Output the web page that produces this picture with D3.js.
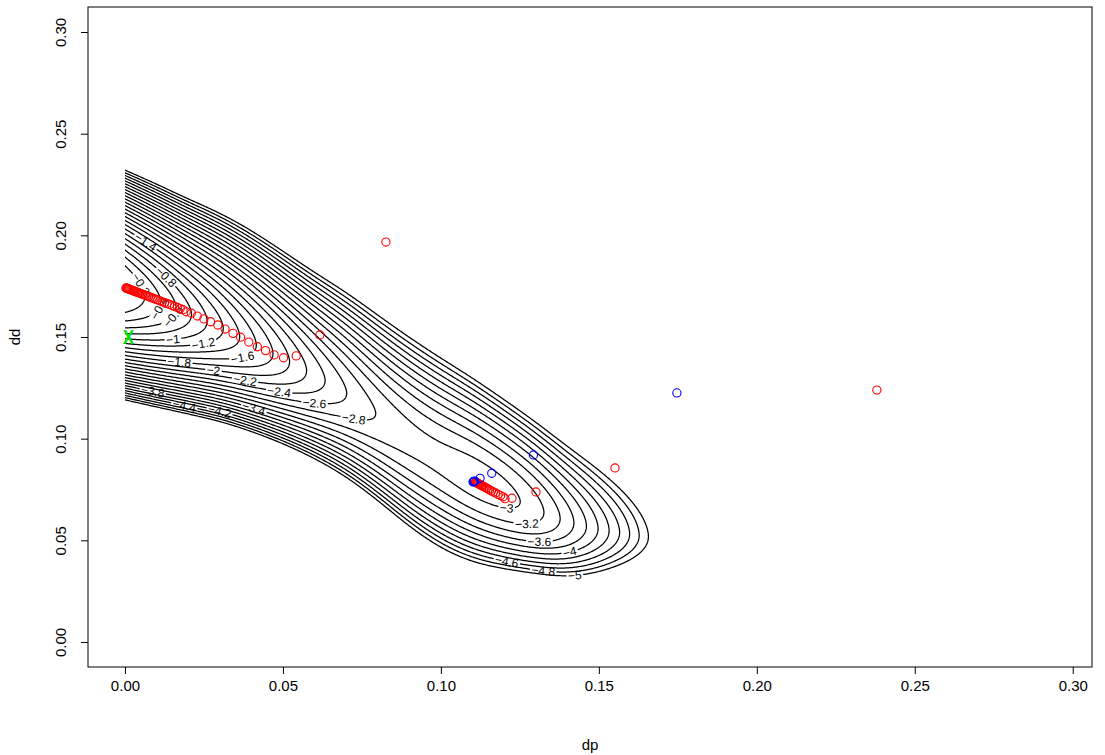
<!DOCTYPE html>
<html>
<head>
<meta charset="utf-8">
<script src="https://cdn.jsdelivr.net/npm/d3@7"></script>
<style>
  body { margin: 0; background: #fff; }
  svg { display: block; font-family: "Liberation Sans", Arial, Helvetica, sans-serif; }
</style>
</head>
<body>
<svg id="chart" width="1105" height="755"></svg>
<script>
// tick values on both axes
var xTicks = [0.00, 0.05, 0.10, 0.15, 0.20, 0.25, 0.30];
var yTicks = [0.00, 0.05, 0.10, 0.15, 0.20, 0.25, 0.30];

// contour levels of the surface
var levels = [-5, -4.8, -4.6, -4.4, -4.2, -4, -3.8, -3.6, -3.4, -3.2, -3,
              -2.8, -2.6, -2.4, -2.2, -2, -1.8, -1.6, -1.4, -1.2, -1,
              -0.8, -0.6, -0.4, -0.2];

// the surface: along dp, the ridge height, the dd of the ridge,
// and how fast it falls off above / below the ridge
var knotDp      = [-0.01, 0.00, 0.01, 0.02, 0.03, 0.04, 0.05, 0.06, 0.07, 0.08, 0.09,
                   0.10, 0.11, 0.12, 0.13, 0.14, 0.15, 0.16, 0.17, 0.18, 0.19, 0.20];
var ridgeValue  = [0.42, 0.05, -0.34, -0.76, -1.16, -1.54, -1.92, -2.30, -2.61, -2.83, -2.93,
                   -2.94, -2.87, -2.90, -3.08, -3.48, -4.00, -4.60, -5.30, -6.00, -6.80, -7.60];
var ridgeDd     = [0.1803, 0.1743, 0.1683, 0.1620, 0.1553, 0.1474, 0.1395, 0.1316, 0.1230, 0.1118, 0.1003,
                   0.0902, 0.0815, 0.0730, 0.0652, 0.0592, 0.0555, 0.0530, 0.0510, 0.0490, 0.0480, 0.0470];
var spreadAbove = [0.0228, 0.0235, 0.0242, 0.0250, 0.0264, 0.0276, 0.0282, 0.0288, 0.0302, 0.0318, 0.0330,
                   0.0330, 0.0318, 0.0306, 0.0300, 0.0292, 0.0290, 0.0285, 0.0280, 0.0280, 0.0280, 0.0280];
var spreadBelow = [0.0246, 0.0246, 0.0244, 0.0242, 0.0238, 0.0235, 0.0238, 0.0250, 0.0268, 0.0285, 0.0303,
                   0.0308, 0.0290, 0.0256, 0.0228, 0.0221, 0.0212, 0.0200, 0.0200, 0.0200, 0.0200, 0.0200];
var powerAbove = 1.8, powerBelow = 2.0;

// where each contour label sits: [level, dp, dd]
var contourLabels = [
  [-0.2, 0.0057, 0.1766], [-0.4, 0.0095, 0.1653], [-0.6, 0.0146, 0.1608],
  [-0.8, 0.0142, 0.1814], [-1, 0.0152, 0.1471], [-1.2, 0.0247, 0.1461],
  [-1.4, 0.0073, 0.1982], [-1.6, 0.0368, 0.1426], [-1.8, 0.0173, 0.1372],
  [-2, 0.0278, 0.1328], [-2.2, 0.0379, 0.1289], [-2.4, 0.0490, 0.1244],
  [-2.6, 0.0600, 0.1190], [-2.8, 0.0727, 0.1126], [-3, 0.1208, 0.0659],
  [-3.2, 0.1271, 0.0566], [-3.4, 0.0405, 0.1136], [-3.6, 0.1313, 0.0477],
  [-3.8, 0.0089, 0.1254], [-4, 0.1408, 0.0433], [-4.2, 0.0301, 0.1131],
  [-4.4, 0.0189, 0.1175], [-4.6, 0.1209, 0.0393], [-4.8, 0.1323, 0.0354],
  [-5, 0.1424, 0.0335]
];

// red iterates [dp, dd]
var redPoints = [
  [0.0003, 0.1741], [0.0005, 0.1740], [0.0007, 0.1739], [0.0009, 0.1738], [0.0011, 0.1737],
  [0.0013, 0.1735], [0.0016, 0.1734], [0.0019, 0.1732], [0.0022, 0.1730], [0.0025, 0.1728],
  [0.0028, 0.1726], [0.0031, 0.1725], [0.0035, 0.1722], [0.0039, 0.1720], [0.0043, 0.1718],
  [0.0047, 0.1715], [0.0051, 0.1713], [0.0055, 0.1711], [0.0060, 0.1708], [0.0065, 0.1705],
  [0.0070, 0.1702], [0.0075, 0.1699], [0.0080, 0.1696], [0.0086, 0.1692], [0.0092, 0.1689],
  [0.0098, 0.1685], [0.0104, 0.1682], [0.0111, 0.1678], [0.0118, 0.1673], [0.0125, 0.1669],
  [0.0133, 0.1665], [0.0141, 0.1660], [0.0149, 0.1655], [0.0157, 0.1650], [0.0166, 0.1645],
  [0.0175, 0.1640], [0.0184, 0.1634], [0.0194, 0.1624], [0.0210, 0.1617], [0.0229, 0.1603],
  [0.0250, 0.1589], [0.0271, 0.1575], [0.0294, 0.1559], [0.0317, 0.1539], [0.0342, 0.1518],
  [0.0366, 0.1499], [0.0392, 0.1475], [0.0419, 0.1452], [0.0445, 0.1433], [0.0472, 0.1412],
  [0.0502, 0.1398], [0.0542, 0.1407],
  [0.0617, 0.1510], [0.0826, 0.1967], [0.1551, 0.0856], [0.1301, 0.0738], [0.2380, 0.1239],
  [0.1109, 0.0787], [0.1110, 0.0786], [0.1111, 0.0785], [0.1112, 0.0784], [0.1114, 0.0783],
  [0.1116, 0.0781], [0.1118, 0.0779], [0.1120, 0.0777], [0.1123, 0.0775], [0.1126, 0.0772],
  [0.1129, 0.0770], [0.1132, 0.0767], [0.1136, 0.0764], [0.1140, 0.0760], [0.1144, 0.0757],
  [0.1149, 0.0753], [0.1154, 0.0748], [0.1160, 0.0743], [0.1166, 0.0738], [0.1173, 0.0733],
  [0.1181, 0.0726], [0.1189, 0.0720], [0.1197, 0.0714], [0.1203, 0.0705], [0.1225, 0.0707]
];

// blue iterates [dp, dd]
var bluePoints = [
  [0.1747, 0.1225], [0.1293, 0.0920], [0.1161, 0.0830], [0.1124, 0.0805],
  [0.1107, 0.0791], [0.1105, 0.0790], [0.1104, 0.0789], [0.1103, 0.0788], [0.1102, 0.0787]
];

// starting value
var startPoint = [0.0011, 0.1502];

var svg = d3.select("#chart");
var x = d3.scaleLinear().domain([-0.0117, 0.3061]).range([88, 1092]);
var y = d3.scaleLinear().domain([-0.0123, 0.3123]).range([667, 7]);
var defs = svg.append("defs");

// smooth B-spline through the knots along dp
var dpSpan = knotDp[knotDp.length - 1] - knotDp[0];
function knotCurve(arr) {
  var f = d3.interpolateBasis(arr);
  return function (u) { return f(Math.max(0, Math.min(1, (u - knotDp[0]) / dpSpan))); };
}
var gAt = knotCurve(ridgeValue), rAt = knotCurve(ridgeDd);
var waAt = knotCurve(spreadAbove), wbAt = knotCurve(spreadBelow);

// grid for the contour generator
var gu0 = -0.004, gdu = 0.0004, nu = 500;
var gd0 = 0.0, gdd = 0.0004, nd = 700;
var values = new Float64Array(nu * nd);
for (var i = 0; i < nu; i++) {
  var u = gu0 + i * gdu;
  var g = gAt(u), r = rAt(u), wa = waAt(u), wb = wbAt(u);
  for (var j = 0; j < nd; j++) {
    var v = gd0 + j * gdd - r;
    values[j * nu + i] = v >= 0 ? g - Math.pow(v / wa, powerAbove) : g - Math.pow(-v / wb, powerBelow);
  }
}
var contours = d3.contours().size([nu, nd]).thresholds(levels)(values);

function toPixel(px, py) {
  return [x(gu0 + (px - 0.5) * gdu), y(gd0 + (py - 0.5) * gdd)];
}
var path = d3.geoPath(d3.geoTransform({
  point: function (px, py) { var p = toPixel(px, py); this.stream.point(p[0], p[1]); }
}));

defs.append("clipPath").attr("id", "plotClip")
  .append("rect")
  .attr("x", x(0)).attr("y", y.range()[1])
  .attr("width", x.range()[1] - x(0)).attr("height", y.range()[0] - y.range()[1]);

// labels first, so their widths can cut gaps in the lines
var labelG = svg.append("g").attr("font-size", 12).attr("fill", "#000");
var gaps = {};
contourLabels.forEach(function (lab) {
  var c = contours.find(function (d) { return Math.abs(d.value - lab[0]) < 1e-9; });
  if (!c) return;
  var hx = x(lab[1]), hy = y(lab[2]);
  var best = null, bestD = Infinity;
  c.coordinates.forEach(function (poly) {
    poly.forEach(function (ring) {
      var pts = ring.map(function (p) { return toPixel(p[0], p[1]); });
      pts.forEach(function (p, k) {
        if (p[0] < x(0) + 1) return;
        var d = (p[0] - hx) * (p[0] - hx) + (p[1] - hy) * (p[1] - hy);
        if (d < bestD) { bestD = d; best = { pts: pts, k: k }; }
      });
    });
  });
  if (!best) return;
  var n = best.pts.length, p = best.pts[best.k];
  var a = best.pts[(best.k - 3 + n) % n], b = best.pts[(best.k + 3) % n];
  var ang = Math.atan2(b[1] - a[1], b[0] - a[0]) * 180 / Math.PI;
  if (ang > 90) ang -= 180;
  if (ang < -90) ang += 180;
  var t = labelG.append("text")
    .attr("transform", "translate(" + p[0] + "," + p[1] + ") rotate(" + ang + ")")
    .attr("text-anchor", "middle")
    .attr("dy", "0.35em")
    .text(String(lab[0]).replace("-", "\u2212"));
  var len = t.node().getComputedTextLength();
  (gaps[lab[0]] = gaps[lab[0]] || []).push({ x: p[0], y: p[1], a: ang, w: len + 3 });
});

var lineG = svg.insert("g", "g").attr("clip-path", "url(#plotClip)");
contours.forEach(function (c, idx) {
  var m = defs.append("mask").attr("id", "gap" + idx)
    .attr("maskUnits", "userSpaceOnUse")
    .attr("x", 0).attr("y", 0).attr("width", 1105).attr("height", 755);
  m.append("rect").attr("width", 1105).attr("height", 755).attr("fill", "#fff");
  (gaps[c.value] || []).forEach(function (gp) {
    m.append("rect")
      .attr("x", -gp.w / 2).attr("y", -4.5).attr("width", gp.w).attr("height", 9)
      .attr("transform", "translate(" + gp.x + "," + gp.y + ") rotate(" + gp.a + ")")
      .attr("fill", "#000");
  });
  lineG.append("path")
    .attr("d", path(c))
    .attr("fill", "none")
    .attr("stroke", "#000")
    .attr("stroke-width", 1.25)
    .attr("mask", "url(#gap" + idx + ")");
});

// iterates
svg.append("g").selectAll("circle").data(redPoints).join("circle")
  .attr("cx", function (d) { return x(d[0]); })
  .attr("cy", function (d) { return y(d[1]); })
  .attr("r", 4.1).attr("fill", "none").attr("stroke", "#ff0000").attr("stroke-width", 1.1);
svg.append("g").selectAll("circle").data(bluePoints).join("circle")
  .attr("cx", function (d) { return x(d[0]); })
  .attr("cy", function (d) { return y(d[1]); })
  .attr("r", 4.1).attr("fill", "none").attr("stroke", "#0000ff").attr("stroke-width", 1.1);
svg.append("text")
  .attr("transform", "translate(" + x(startPoint[0]) + "," + y(startPoint[1]) + ") scale(0.85,1)")
  .attr("text-anchor", "middle").attr("dy", "0.36em")
  .attr("font-size", 20).attr("font-weight", "bold").attr("fill", "#00e000")
  .text("X");

// box
svg.append("rect")
  .attr("x", x.range()[0]).attr("y", y.range()[1])
  .attr("width", x.range()[1] - x.range()[0]).attr("height", y.range()[0] - y.range()[1])
  .attr("fill", "none").attr("stroke", "#000").attr("stroke-width", 1);

// axes
var xAxis = svg.append("g")
  .attr("transform", "translate(0," + y.range()[0] + ")")
  .call(d3.axisBottom(x).tickValues(xTicks).tickFormat(d3.format(".2f")).tickSize(7).tickPadding(6));
var yAxis = svg.append("g")
  .attr("transform", "translate(" + x.range()[0] + ",0)")
  .call(d3.axisLeft(y).tickValues(yTicks).tickFormat(d3.format(".2f")).tickSize(7));
[xAxis, yAxis].forEach(function (ax) {
  ax.select(".domain").remove();
  ax.attr("font-size", 15).attr("font-family", null);
  ax.selectAll("text").attr("fill", "#000");
  ax.selectAll("line").attr("stroke", "#000");
});
yAxis.selectAll("text")
  .attr("x", null).attr("dy", null)
  .attr("text-anchor", "middle")
  .attr("transform", "translate(-22,0) rotate(-90)");

svg.append("text").attr("x", (x.range()[0] + x.range()[1]) / 2).attr("y", 750)
  .attr("text-anchor", "middle").attr("font-size", 15).text("dp");
svg.append("text").attr("transform", "translate(20," + (y.range()[0] + y.range()[1]) / 2 + ") rotate(-90)")
  .attr("text-anchor", "middle").attr("font-size", 15).text("dd");
</script>
</body>
</html>
